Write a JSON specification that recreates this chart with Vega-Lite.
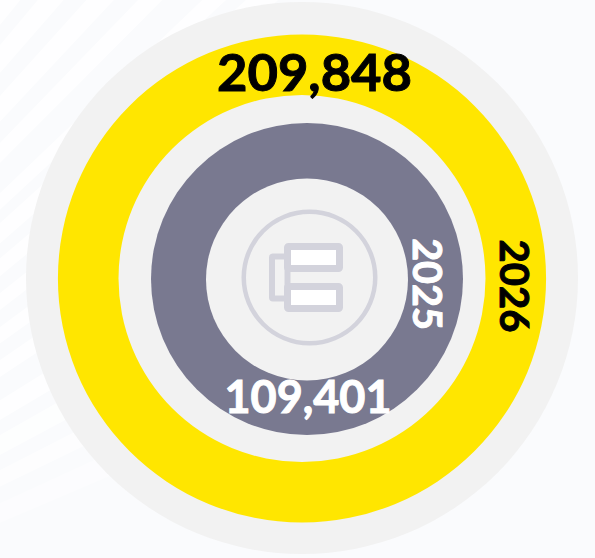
{"$schema":"https://vega.github.io/schema/vega-lite/v6.json","width":595,"height":558,"padding":0,"autosize":{"type":"none"},"background":"#fafbfd","view":{"stroke":null},"config":{"axis":{"disable":true},"legend":{"disable":true}},
"layer":[
{"data":{"values":[
{"t0":0.662,"t1":0.685,"r":1240,"o":0.75,"cx":-625,"cy":790},
{"t0":0.698,"t1":0.717,"r":1240,"o":0.75,"cx":-625,"cy":790},
{"t0":0.733,"t1":0.752,"r":1240,"o":0.75,"cx":-625,"cy":790},
{"t0":0.768,"t1":0.7838,"r":1240,"o":0.75,"cx":-625,"cy":790},
{"t0":0.8084,"t1":0.8226,"r":1240,"o":0.75,"cx":-625,"cy":790},
{"t0":0.834,"t1":0.8522,"r":1240,"o":0.75,"cx":-625,"cy":790},
{"t0":0.8659,"t1":0.8827,"r":1000,"o":0.75,"cx":-625,"cy":790},
{"t0":0.8991,"t1":0.9159,"r":1000,"o":0.75,"cx":-625,"cy":790},
{"t0":0.9333,"t1":0.9505,"r":1000,"o":0.75,"cx":-625,"cy":790},
{"t0":0.9681,"t1":0.9869,"r":1000,"o":0.75,"cx":-625,"cy":790},
{"t0":1.0131,"t1":1.0363,"r":1000,"o":0.75,"cx":-625,"cy":790},
{"t0":1.0543,"t1":1.0789,"r":1000,"o":0.65,"cx":-625,"cy":790},
{"t0":1.0977,"t1":1.119,"r":950,"o":0.55,"cx":-625,"cy":790},
{"t0":1.1404,"t1":1.1672,"r":900,"o":0.35,"cx":-625,"cy":790}
]},"mark":{"type":"arc","fill":"#ffffff"},"encoding":{"x":{"field":"cx","type":"quantitative","scale":{"domain":[0,595],"range":[0,595]}},"y":{"field":"cy","type":"quantitative","scale":{"domain":[0,558],"range":[0,558]}},"theta":{"field":"t0","type":"quantitative","stack":null,"scale":{"domain":[0,6.2832],"range":[0,6.2832]}},"theta2":{"field":"t1"},"radius":{"field":"r","type":"quantitative","scale":{"domain":[0,1400],"range":[0,1400]}},"opacity":{"field":"o","type":"quantitative","scale":null}}},
{"data":{"values":[{"ring":"track outer","cx":302,"cy":278,"r0":0,"r1":276,"color":"#f2f2f2"},{"ring":"2026","cx":302,"cy":278.5,"r0":183.5,"r1":244,"color":"#ffe600"},{"ring":"track inner","cx":307,"cy":279,"r0":0,"r1":156,"color":"#797990"},{"ring":"hole","cx":307,"cy":279.5,"r0":0,"r1":101,"color":"#f2f2f2"}]},"mark":{"type":"arc","theta":0,"theta2":6.2832},"encoding":{"x":{"field":"cx","type":"quantitative","scale":{"domain":[0,595],"range":[0,595]}},"y":{"field":"cy","type":"quantitative","scale":{"domain":[0,558],"range":[0,558]}},"radius":{"field":"r1","type":"quantitative","scale":{"domain":[0,900],"range":[0,900]}},"radius2":{"field":"r0"},"fill":{"field":"color","type":"nominal","scale":null},"order":{"field":"r1","type":"quantitative","sort":"descending"}}},
{"data":{"values":[{"ring":"icon circle","cx":309.5,"cy":277.5,"r0":63.5,"r1":68}]},"mark":{"type":"arc","theta":0,"theta2":6.2832,"fill":"#d3d3dc"},"encoding":{"x":{"field":"cx","type":"quantitative","scale":{"domain":[0,595],"range":[0,595]}},"y":{"field":"cy","type":"quantitative","scale":{"domain":[0,558],"range":[0,558]}},"radius":{"field":"r1","type":"quantitative","scale":{"domain":[0,900],"range":[0,900]}},"radius2":{"field":"r0"}}},
{"data":{"values":[{"x0":272,"x1":287.5,"y0":256.5,"y1":298.5,"f":"transparent","w":6},{"x0":287.5,"x1":339.5,"y0":246.5,"y1":268.5,"f":"#ffffff","w":7},{"x0":287.5,"x1":339.5,"y0":286.5,"y1":308.5,"f":"#ffffff","w":7}]},"mark":{"type":"rect","stroke":"#d3d3dc","cornerRadius":1},"encoding":{"x":{"field":"x0","type":"quantitative","scale":{"domain":[0,595],"range":[0,595]}},"x2":{"field":"x1"},"y":{"field":"y0","type":"quantitative","scale":{"domain":[0,558],"range":[0,558]}},"y2":{"field":"y1"},"fill":{"field":"f","type":"nominal","scale":null},"strokeWidth":{"field":"w","type":"quantitative","scale":null}}},
{"data":{"values":[{"t":"209,848","x":314.5,"y":75,"c":"#000000","s":52.5,"a":0},{"t":"109,401","x":308,"y":398.5,"c":"#ffffff","s":45,"a":0},{"t":"2026","x":512,"y":286,"c":"#000000","s":40,"a":90},{"t":"2025","x":425,"y":284,"c":"#ffffff","s":39.5,"a":90}]},"mark":{"type":"text","font":"Lato","fontWeight":"bold","align":"center","baseline":"middle","strokeWidth":1},"encoding":{"x":{"field":"x","type":"quantitative","scale":{"domain":[0,595],"range":[0,595]}},"y":{"field":"y","type":"quantitative","scale":{"domain":[0,558],"range":[0,558]}},"text":{"field":"t"},"color":{"field":"c","type":"nominal","scale":null},"stroke":{"field":"c","type":"nominal","scale":null},"size":{"field":"s","type":"quantitative","scale":null},"angle":{"field":"a","type":"quantitative","scale":null}}}
]}
